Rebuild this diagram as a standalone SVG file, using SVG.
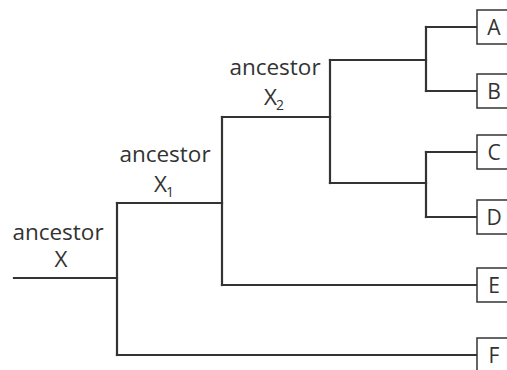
<svg xmlns="http://www.w3.org/2000/svg" width="507" height="370" viewBox="0 0 507 370">
<style>
.ln{stroke:#333;stroke-width:2.2;fill:none;stroke-linecap:square}
.bx{fill:#fff;stroke:#333;stroke-width:1.5}
.t{font-family:"Open Sans","DejaVu Sans",sans-serif;font-size:22.5px;fill:#333;text-anchor:middle}
.lt{font-family:"Open Sans","DejaVu Sans",sans-serif;font-size:21px;fill:#333;text-anchor:middle}
.sub{font-size:14px}
</style>
<rect width="507" height="370" fill="#fff"/>
<g id="connectors" class="ln">
<path d="M14,278H117"/>
<path d="M117,203V355"/>
<path d="M117,203H222"/>
<path d="M117,355H477"/>
<path d="M222,117V285"/>
<path d="M222,285H477"/>
<path d="M222,117H330"/>
<path d="M330,60V183"/>
<path d="M330,60H426"/>
<path d="M330,183H426"/>
<path d="M426,27V91"/>
<path d="M426,27H477"/>
<path d="M426,91H477"/>
<path d="M426,152V217"/>
<path d="M426,152H477"/>
<path d="M426,217H477"/>
</g>
<g id="ancestorX"><text class="t" x="58" y="240">ancestor</text><text class="t" x="61" y="267">X</text></g>
<g id="ancestorX1"><text class="t" x="165" y="162">ancestor</text><text class="t" x="164" y="192">X<tspan class="sub" dx="-1" dy="5">1</tspan></text></g>
<g id="ancestorX2"><text class="t" x="275" y="75">ancestor</text><text class="t" x="274" y="105">X<tspan class="sub" dx="-1" dy="5">2</tspan></text></g>
<g id="A"><rect class="bx" x="477" y="10" width="40" height="34"/><text class="lt" x="494" y="35">A</text></g>
<g id="B"><rect class="bx" x="477" y="74" width="40" height="34"/><text class="lt" x="494" y="99">B</text></g>
<g id="C"><rect class="bx" x="477" y="135" width="40" height="34"/><text class="lt" x="494" y="160">C</text></g>
<g id="D"><rect class="bx" x="477" y="200" width="40" height="34"/><text class="lt" x="494" y="225">D</text></g>
<g id="E"><rect class="bx" x="477" y="268" width="40" height="34"/><text class="lt" x="494" y="293">E</text></g>
<g id="F"><rect class="bx" x="477" y="338" width="40" height="34"/><text class="lt" x="494" y="363">F</text></g>
</svg>
